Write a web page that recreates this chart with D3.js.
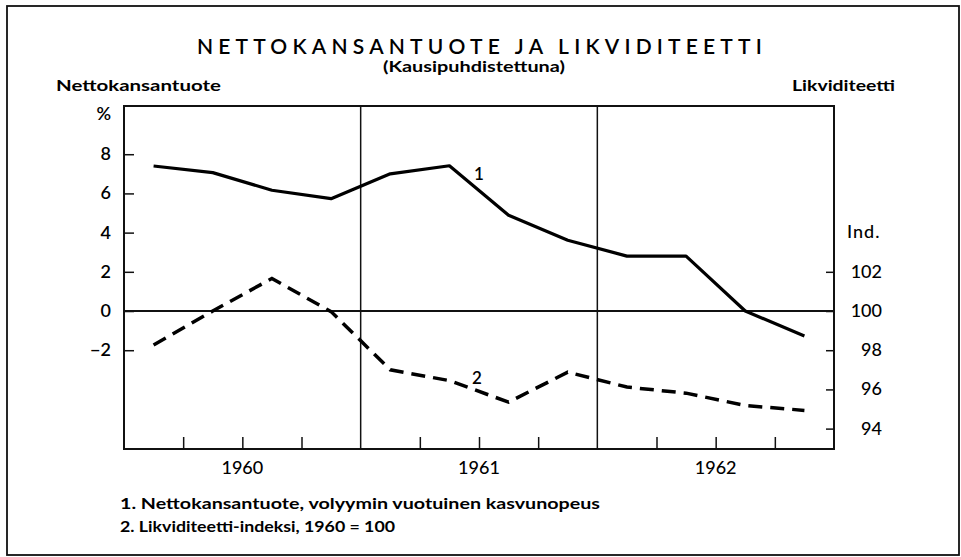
<!DOCTYPE html>
<html>
<head>
<meta charset="utf-8">
<script src="https://cdn.jsdelivr.net/npm/d3@7"></script>
<style>
body { margin:0; background:#fff; }
svg { font-family: Lato, "Open Sans", sans-serif; }
</style>
</head>
<body>
<div id="chart"></div>
<script>
// quarters 1960 Q1 .. 1962 Q4
var years = ['1960','1961','1962'];
// 1. Nettokansantuote, volume growth %
var nkt = [7.4, 7.06, 6.16, 5.73, 7.0, 7.41, 4.89, 3.61, 2.8, 2.8, 0.0, -1.27];
// 2. Likviditeetti-indeksi, 1960 = 100
var likv = [98.27, 100.0, 101.66, 99.97, 97.0, 96.45, 95.35, 96.88, 96.12, 95.81, 95.18, 94.93];
var leftTicks = [8, 6, 4, 2, 0, -2];
var rightTicks = [102, 100, 98, 96, 94];

var width = 961, height = 557;
var svg = d3.select('#chart').append('svg')
    .attr('width', width)
    .attr('height', height);

// plot area (note: "top" is reserved on window, so use pTop etc.)
var pLeft = 124, pRight = 834, pTop = 106, pBottom = 449;

var x = d3.scaleLinear().domain([0, 12]).range([pLeft, pRight]);
var y = d3.scaleLinear().domain([-7.04, 10.46]).range([pBottom, pTop]);
var yR = d3.scaleLinear().domain([92.96, 110.46]).range([pBottom, pTop]);

// outer frame
svg.append('rect')
    .attr('x', 7).attr('y', 6)
    .attr('width', 952).attr('height', 549)
    .attr('fill', 'none').attr('stroke', '#111').attr('stroke-width', 1.8);

// titles
svg.append('text')
    .attr('x', 482).attr('y', 54)
    .attr('text-anchor', 'middle')
    .style('font-size', '21px').style('font-weight', 600)
    .style('letter-spacing', '5.2px')
    .text('NETTOKANSANTUOTE JA LIKVIDITEETTI');

svg.append('text')
    .attr('x', 383).attr('y', 72)
    .attr('textLength', 182).attr('lengthAdjust', 'spacingAndGlyphs')
    .style('font-size', '15px').style('font-weight', 700)
    .text('(Kausipuhdistettuna)');

svg.append('text')
    .attr('x', 56).attr('y', 91)
    .attr('textLength', 165).attr('lengthAdjust', 'spacingAndGlyphs')
    .style('font-size', '16px').style('font-weight', 700)
    .text('Nettokansantuote');

svg.append('text')
    .attr('x', 792).attr('y', 91)
    .attr('textLength', 103).attr('lengthAdjust', 'spacingAndGlyphs')
    .style('font-size', '16px').style('font-weight', 700)
    .text('Likviditeetti');

// plot box
svg.append('rect')
    .attr('x', pLeft).attr('y', pTop)
    .attr('width', pRight - pLeft).attr('height', pBottom - pTop)
    .attr('fill', 'none').attr('stroke', '#111').attr('stroke-width', 2);

// year dividers
svg.selectAll('.yearline').data([4, 8]).enter().append('line')
    .attr('x1', d => x(d)).attr('x2', d => x(d))
    .attr('y1', pTop).attr('y2', pBottom)
    .attr('stroke', '#111').attr('stroke-width', 1.5);

// zero line
svg.append('line')
    .attr('x1', pLeft).attr('x2', pRight)
    .attr('y1', y(0)).attr('y2', y(0))
    .attr('stroke', '#111').attr('stroke-width', 2);

// left axis
var yAxis = d3.axisRight(y).tickValues(leftTicks).tickSize(10).tickFormat('');
svg.append('g').attr('transform', `translate(${pLeft},0)`).call(yAxis)
    .call(g => g.select('.domain').remove())
    .selectAll('line').attr('stroke', '#111').attr('stroke-width', 1.5);

svg.selectAll('.ltxt').data(leftTicks).enter().append('text')
    .attr('x', 111).attr('y', d => y(d) + 6)
    .attr('text-anchor', 'end')
    .style('font-size', '18px').style('font-weight', 600)
    .text(d => d < 0 ? '\u2212' + Math.abs(d) : d);

svg.append('text')
    .attr('x', 111).attr('y', 120)
    .attr('text-anchor', 'end')
    .style('font-size', '18px').style('font-weight', 600)
    .text('%');

// right axis
var yRAxis = d3.axisLeft(yR).tickValues(rightTicks).tickSize(8).tickFormat('');
svg.append('g').attr('transform', `translate(${pRight},0)`).call(yRAxis)
    .call(g => g.select('.domain').remove())
    .selectAll('line').attr('stroke', '#111').attr('stroke-width', 1.5);

svg.selectAll('.rtxt').data(rightTicks).enter().append('text')
    .attr('x', 882).attr('y', d => yR(d) + 6)
    .attr('text-anchor', 'end')
    .style('font-size', '18px').style('font-weight', 500)
    .text(d => d);

svg.append('text')
    .attr('x', 847).attr('y', 238)
    .style('font-size', '18px').style('font-weight', 500)
    .style('letter-spacing', '1px')
    .text('Ind.');

// x axis quarter ticks
var qTicks = d3.range(1, 12).filter(d => d % 4 !== 0);
var xAxis = d3.axisTop(x).tickValues(qTicks).tickSize(12).tickFormat('');
svg.append('g').attr('transform', `translate(0,${pBottom})`).call(xAxis)
    .call(g => g.select('.domain').remove())
    .selectAll('line').attr('stroke', '#111').attr('stroke-width', 1.5);

svg.selectAll('.ytxt').data(years).enter().append('text')
    .attr('x', (d, i) => x(i * 4 + 2)).attr('y', 474)
    .attr('text-anchor', 'middle')
    .style('font-size', '18px').style('font-weight', 500)
    .text(d => d);

// series
var line1 = d3.line().x((d, i) => x(i + 0.5)).y(d => y(d));
var line2 = d3.line().x((d, i) => x(i + 0.5)).y(d => yR(d));

svg.append('path').datum(nkt)
    .attr('d', line1)
    .attr('fill', 'none').attr('stroke', '#000')
    .attr('stroke-width', 3.2).attr('stroke-linejoin', 'round');

svg.append('path').datum(likv)
    .attr('d', line2)
    .attr('fill', 'none').attr('stroke', '#000')
    .attr('stroke-width', 3.5).attr('stroke-dasharray', '14,8');

svg.append('text')
    .attr('x', 474).attr('y', 180)
    .style('font-size', '17px').style('font-weight', 600)
    .text('1');

svg.append('text')
    .attr('x', 472).attr('y', 384)
    .style('font-size', '17px').style('font-weight', 600)
    .text('2');

// legend
var legend = ['1. Nettokansantuote, volyymin vuotuinen kasvunopeus',
              '2. Likviditeetti-indeksi, 1960 = 100'];
var legLen = [480, 275];
svg.selectAll('.leg').data(legend).enter().append('text')
    .attr('x', 120).attr('y', (d, i) => 509 + i * 23)
    .attr('textLength', (d, i) => legLen[i]).attr('lengthAdjust', 'spacingAndGlyphs')
    .style('font-size', '15px').style('font-weight', 700)
    .text(d => d);
</script>
</body>
</html>
